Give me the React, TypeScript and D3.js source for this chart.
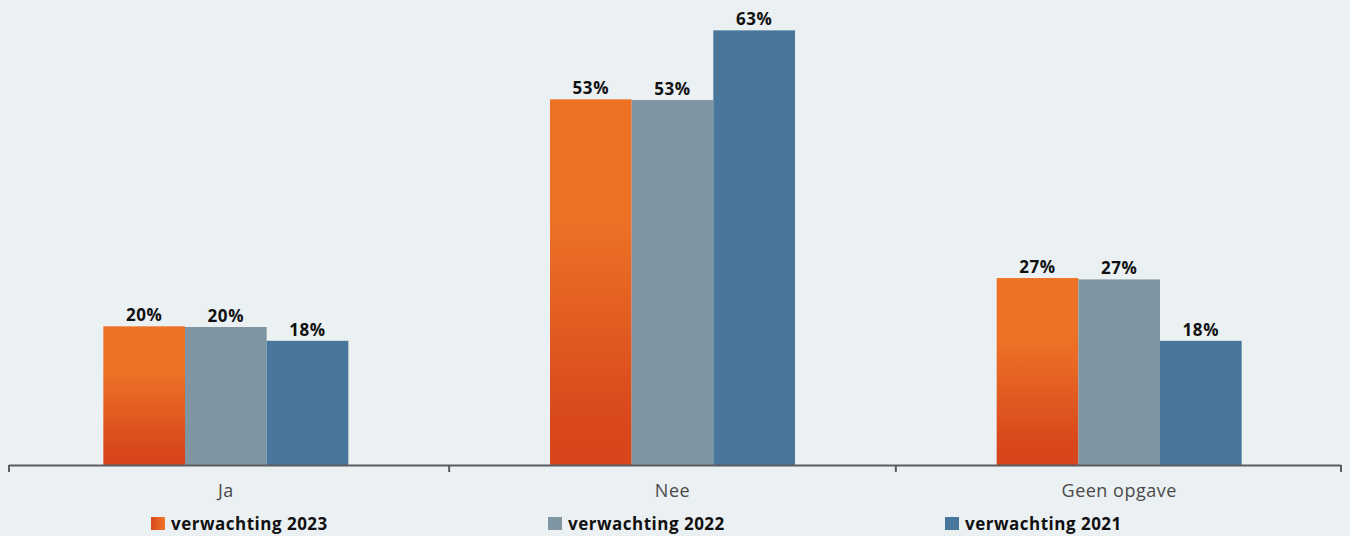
import React from "react";
import * as d3 from "d3";

const categories = ["Ja", "Nee", "Geen opgave"];
const seriesNames = ["verwachting 2023", "verwachting 2022", "verwachting 2021"];
const values2023 = [20.1, 53.0, 27.1];
const values2022 = [20.0, 52.9, 26.9];
const values2021 = [18.0, 63.0, 18.0];
const seriesValues = [values2023, values2022, values2021];
const colors = ["url(#orangeGrad)", "#7F95A2", "#48779B"];
const legendColors = ["url(#orangeGradH)", "#7F95A2", "#48779B"];

const W = 1350;
const H = 536;
const FONT = "'Open Sans', Lato, sans-serif";

export default function App() {
  const x0 = d3.scaleBand<string>().domain(categories).range([2.5, 1342.5]).paddingInner(0).paddingOuter(0);
  const groupW = 245;
  const x1 = d3.scaleBand<number>().domain([0, 1, 2]).range([0, groupW]).padding(0);
  const y = d3.scaleLinear().domain([0, 67.4]).range([465, 0]);
  const ticks = [9, ...categories.slice(1).map((c) => x0(c) as number), 1341];

  return (
    <div style={{ position: "fixed", left: 0, top: 0, width: W, height: H, background: "#EBF0F3" }}>
      <svg width={W} height={H} style={{ display: "block", fontFamily: FONT }}>
        <defs>
          <linearGradient id="orangeGrad" x1="0" y1="0" x2="0" y2="1">
            <stop offset="0" stopColor="#EE7226" />
            <stop offset="0.32" stopColor="#EE7226" />
            <stop offset="0.88" stopColor="#D8481C" />
            <stop offset="1" stopColor="#D6451B" />
          </linearGradient>
          <linearGradient id="orangeGradH" x1="0" y1="0" x2="1" y2="0">
            <stop offset="0" stopColor="#D8481C" />
            <stop offset="1" stopColor="#F07628" />
          </linearGradient>
        </defs>
        {categories.map((c, ci) => {
          const gx = (x0(c) as number) + (x0.bandwidth() - groupW) / 2;
          return (
            <g key={c} transform={`translate(${gx},0)`}>
              {seriesValues.map((vals, si) => {
                const v = vals[ci];
                const bx = x1(si) as number;
                return (
                  <g key={si}>
                    <rect x={bx} y={y(v)} width={x1.bandwidth()} height={y(0) - y(v)} fill={colors[si]} />
                    <text
                      x={bx + x1.bandwidth() / 2}
                      y={y(v) - 5}
                      textAnchor="middle"
                      fontSize={17}
                      fontWeight={700}
                      letterSpacing={0.6}
                      fill="#111"
                    >
                      {Math.round(v)}%
                    </text>
                  </g>
                );
              })}
            </g>
          );
        })}
        <line x1={9} x2={1341} y1={465.5} y2={465.5} stroke="#5C5C60" strokeWidth={2} />
        {ticks.map((t, i) => (
          <line key={i} x1={t} x2={t} y1={465} y2={472} stroke="#5C5C60" strokeWidth={2} />
        ))}
        {categories.map((c) => (
          <text
            key={c}
            x={(x0(c) as number) + x0.bandwidth() / 2}
            y={497}
            textAnchor="middle"
            fontSize={18}
            fontWeight={400}
            letterSpacing={0.5}
            fill="#4a4a4a"
          >
            {c}
          </text>
        ))}
        {seriesNames.map((n, i) => (
          <g key={n} transform={`translate(${151 + i * 397},517)`}>
            <rect x={0} y={0} width={14} height={13} fill={legendColors[i]} />
            <text x={20} y={13} fontSize={17} fontWeight={700} letterSpacing={0.5} fill="#111">
              {n}
            </text>
          </g>
        ))}
      </svg>
    </div>
  );
}
